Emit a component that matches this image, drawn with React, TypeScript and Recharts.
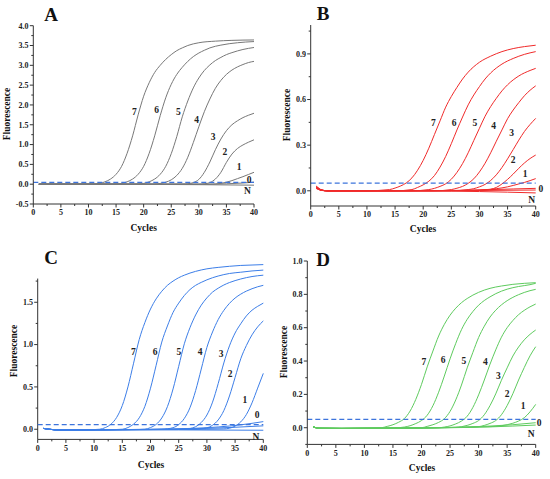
import React from 'react';
import { LineChart, Line, XAxis, YAxis, ReferenceLine, ReferenceDot } from 'recharts';

type Pt = [number, number];

const SERIF = '"Liberation Serif", "Times New Roman", serif';
const AXIS = '#333333';
const THRESH = '#3d74dc';

// ---------- shared x axis ----------
const cycleMajor = [0, 5, 10, 15, 20, 25, 30, 35, 40];
const cycleMinor = [2.5, 7.5, 12.5, 17.5, 22.5, 27.5, 32.5, 37.5];

// ---------- Panel A ----------
const A_yMajor = [-0.5, 0, 0.5, 1, 1.5, 2, 2.5, 3, 3.5, 4];
const A_yMinor = [-0.25, 0.25, 0.75, 1.25, 1.75, 2.25, 2.75, 3.25, 3.75];
const A_threshold = 0.045;
const A_7: Pt[] = [[1,0],[11,0],[12,0.02],[13,0.06],[14,0.13],[15,0.25],[16,0.45],[17,0.78],[18,1.22],[19,1.75],[20,2.22],[21,2.56],[22,2.82],[23,3.0],[24,3.15],[25,3.27],[26,3.37],[27,3.44],[28,3.5],[30,3.57],[33,3.61],[36,3.63],[40,3.64]];
const A_6: Pt[] = [[1,0],[15,0],[16,0.02],[17,0.06],[18,0.13],[19,0.25],[20,0.45],[21,0.78],[22,1.22],[23,1.73],[24,2.18],[25,2.52],[26,2.77],[27,2.95],[28,3.1],[29,3.22],[30,3.31],[31,3.38],[32,3.44],[34,3.51],[37,3.57],[40,3.6]];
const A_5: Pt[] = [[1,0],[19,0],[20,0.02],[21,0.06],[22,0.13],[23,0.25],[24,0.45],[25,0.77],[26,1.2],[27,1.7],[28,2.1],[29,2.43],[30,2.68],[31,2.87],[32,3.01],[33,3.12],[34,3.2],[35,3.27],[36,3.32],[38,3.4],[40,3.45]];
const A_4: Pt[] = [[1,0],[22,0],[23,0.02],[24,0.05],[25,0.11],[26,0.22],[27,0.4],[28,0.68],[29,1.05],[30,1.45],[31,1.83],[32,2.15],[33,2.42],[34,2.62],[35,2.77],[36,2.88],[37,2.96],[38,3.02],[39,3.07],[40,3.1]];
const A_3: Pt[] = [[1,0],[27,0],[28,0.01],[29,0.04],[30,0.12],[31,0.3],[32,0.56],[33,0.87],[34,1.14],[35,1.35],[36,1.5],[37,1.6],[38,1.68],[39,1.74],[40,1.79]];
const A_2: Pt[] = [[1,0],[30,0],[31,0.01],[32,0.04],[33,0.13],[34,0.3],[35,0.55],[36,0.76],[37,0.9],[38,0.99],[39,1.06],[40,1.12]];
const A_1: Pt[] = [[1,0],[32,0],[33,0.005],[34,0.02],[35,0.05],[36,0.09],[37,0.14],[38,0.19],[39,0.245],[40,0.3]];
const A_0: Pt[] = [[1,0],[30,0],[35,0.01],[38,0.03],[40,0.05]];
const A_N: Pt[] = [[1,0],[20,-0.005],[30,-0.012],[40,-0.025]];
const A_labelText = ['7', '6', '5', '4', '3', '2', '1', '0', 'N'];
const A_labelPos: Pt[] = [[18.3,1.83],[22.35,1.87],[26.3,1.83],[29.6,1.64],[32.6,1.21],[34.7,0.82],[37.3,0.44],[39.1,0.12],[38.8,-0.15]];

// ---------- Panel B ----------
const B_yMajor = [0, 0.3, 0.6, 0.9];
const B_yMinor = [0.15, 0.45, 0.75, 1.05];
const B_threshold = 0.05;
const B_7: Pt[] = [[1,0.025],[2,0.004],[3,0],[10,0],[14,0.008],[15,0.018],[16,0.032],[17,0.052],[18,0.085],[19,0.135],[20,0.2],[21,0.28],[22,0.37],[23,0.46],[24,0.55],[25,0.62],[26,0.68],[27,0.735],[28,0.78],[30,0.845],[32,0.885],[34,0.915],[36,0.935],[38,0.948],[40,0.957]];
const B_6: Pt[] = [[1,0.02],[2,0.003],[3,0],[15,0],[18,0.008],[19,0.022],[20,0.039],[21,0.063],[22,0.1],[23,0.156],[24,0.226],[25,0.31],[26,0.4],[27,0.485],[28,0.565],[29,0.63],[30,0.685],[31,0.735],[32,0.775],[34,0.833],[36,0.87],[38,0.897],[40,0.915]];
const B_5: Pt[] = [[1,0.03],[2,0.005],[3,0],[18,0],[21,0.008],[22,0.016],[23,0.029],[24,0.046],[25,0.076],[26,0.121],[27,0.179],[28,0.25],[29,0.331],[30,0.411],[31,0.49],[32,0.554],[33,0.608],[34,0.657],[35,0.697],[37,0.755],[39,0.791],[40,0.805]];
const B_4: Pt[] = [[1,0.015],[2,0.002],[3,0],[22,0],[25,0.008],[26,0.017],[27,0.029],[28,0.049],[29,0.079],[30,0.124],[31,0.181],[32,0.25],[33,0.326],[34,0.4],[35,0.474],[36,0.531],[37,0.58],[38,0.625],[39,0.661],[40,0.69]];
const B_3: Pt[] = [[1,0.02],[2,0.003],[3,0],[25,0],[28,0.008],[29,0.014],[30,0.026],[31,0.042],[32,0.068],[33,0.105],[34,0.153],[35,0.21],[36,0.271],[37,0.333],[38,0.39],[39,0.436],[40,0.476]];
const B_2: Pt[] = [[1,0.025],[2,0.004],[3,0],[28,0],[31,0.005],[32,0.01],[33,0.022],[34,0.045],[35,0.075],[36,0.11],[37,0.148],[38,0.183],[39,0.212],[40,0.235]];
const B_1: Pt[] = [[1,0.02],[2,0.003],[3,0],[26,0.002],[30,0.005],[32,0.01],[34,0.019],[35,0.026],[36,0.035],[37,0.045],[38,0.055],[39,0.067],[40,0.08]];
const B_0: Pt[] = [[1,0.02],[2,0.003],[3,0],[25,0.002],[32,0.008],[36,0.012],[40,0.016]];
const B_0b: Pt[] = [[1,0.015],[2,0.002],[3,0],[30,0.002],[40,0.005]];
const B_N: Pt[] = [[1,0.03],[2,0.005],[3,0],[25,-0.002],[30,-0.005],[35,-0.009],[40,-0.014]];
const B_labelText = ['7', '6', '5', '4', '3', '2', '1', '0', 'N'];
const B_labelPos: Pt[] = [[21.8,0.448],[25.5,0.448],[29.2,0.448],[32.5,0.426],[35.7,0.382],[36.0,0.202],[38.1,0.114],[40.9,0.016],[39.3,-0.055]];

// ---------- Panel C ----------
const C_yMajor = [0, 0.5, 1, 1.5];
const C_yMinor = [0.25, 0.75, 1.25, 1.75];
const C_threshold = 0.055;
const C_7: Pt[] = [[1,0.01],[2,0],[4,-0.008],[8,-0.008],[11,0],[12,0.02],[13,0.06],[14,0.14],[15,0.28],[16,0.5],[17,0.78],[18,1.06],[19,1.26],[20,1.42],[21,1.54],[22,1.63],[23,1.7],[24,1.75],[25,1.79],[26,1.82],[27,1.845],[28,1.865],[30,1.895],[32,1.912],[34,1.925],[36,1.935],[38,1.94],[40,1.945]];
const C_6: Pt[] = [[1,0.01],[2,0],[4,-0.008],[10,-0.008],[14,-0.003],[15,0],[16,0.02],[17,0.06],[18,0.135],[19,0.27],[20,0.485],[21,0.755],[22,1.03],[23,1.22],[24,1.38],[25,1.49],[26,1.58],[27,1.65],[28,1.7],[29,1.735],[30,1.765],[31,1.79],[32,1.81],[34,1.84],[36,1.855],[38,1.87],[40,1.88]];
const C_5: Pt[] = [[1,0.01],[2,0],[4,-0.008],[12,-0.006],[18,-0.002],[19,0],[20,0.02],[21,0.057],[22,0.133],[23,0.267],[24,0.476],[25,0.743],[26,1.01],[27,1.2],[28,1.35],[29,1.466],[30,1.552],[31,1.62],[32,1.666],[33,1.704],[34,1.733],[35,1.756],[36,1.775],[38,1.804],[40,1.82]];
const C_4: Pt[] = [[1,0.01],[2,0],[4,-0.008],[14,-0.005],[22,0],[23,0.006],[24,0.018],[25,0.055],[26,0.128],[27,0.255],[28,0.456],[29,0.711],[30,0.967],[31,1.149],[32,1.295],[33,1.404],[34,1.487],[35,1.55],[36,1.596],[37,1.632],[38,1.66],[39,1.683],[40,1.7]];
const C_3: Pt[] = [[1,0.01],[2,0],[4,-0.008],[15,-0.005],[25,0],[26,0.003],[27,0.008],[28,0.03],[29,0.08],[30,0.168],[31,0.32],[32,0.539],[33,0.783],[34,0.985],[35,1.137],[36,1.246],[37,1.339],[38,1.406],[39,1.452],[40,1.49]];
const C_2: Pt[] = [[1,0.01],[2,0],[4,-0.008],[15,-0.005],[28,0],[29,0.006],[30,0.016],[31,0.047],[32,0.11],[33,0.22],[34,0.393],[35,0.612],[36,0.832],[37,0.989],[38,1.115],[39,1.209],[40,1.28]];
const C_1: Pt[] = [[1,0.01],[2,0],[4,-0.008],[15,-0.005],[30,0],[33,0.004],[34,0.012],[35,0.037],[36,0.087],[37,0.174],[38,0.312],[39,0.486],[40,0.66]];
const C_0: Pt[] = [[1,0.01],[2,0],[4,-0.008],[15,-0.004],[24,0.003],[28,0.012],[32,0.027],[36,0.052],[40,0.09]];
const C_0b: Pt[] = [[1,0.01],[2,0],[4,-0.008],[20,-0.002],[30,0.01],[40,0.04]];
const C_N: Pt[] = [[1,0.01],[2,0],[4,-0.008],[15,-0.008],[25,-0.008],[40,-0.012]];
const C_labelText = ['7', '6', '5', '4', '3', '2', '1', '0', 'N'];
const C_labelPos: Pt[] = [[16.95,0.916],[20.8,0.916],[25.05,0.916],[28.8,0.916],[32.5,0.897],[34.1,0.661],[36.75,0.346],[38.9,0.169],[38.7,-0.087]];

// ---------- Panel D ----------
const D_yMajor = [0, 0.2, 0.4, 0.6, 0.8, 1.0];
const D_yMinor = [-0.1, 0.1, 0.3, 0.5, 0.7, 0.9];
const D_threshold = 0.05;
const D_7: Pt[] = [[1,0.006],[2,-0.003],[6,-0.004],[12,-0.002],[13,0],[14,0.008],[15,0.018],[16,0.033],[17,0.055],[18,0.1],[19,0.17],[20,0.26],[21,0.365],[22,0.46],[23,0.55],[24,0.62],[25,0.675],[26,0.717],[27,0.75],[28,0.775],[30,0.812],[32,0.836],[34,0.85],[36,0.86],[38,0.866],[40,0.87]];
const D_6: Pt[] = [[1,0.006],[2,-0.003],[6,-0.004],[14,-0.002],[16,0],[17,0.004],[18,0.012],[19,0.025],[20,0.043],[21,0.075],[22,0.132],[23,0.213],[24,0.31],[25,0.413],[26,0.506],[27,0.588],[28,0.65],[29,0.697],[30,0.735],[31,0.763],[32,0.785],[33,0.804],[35,0.831],[37,0.847],[39,0.858],[40,0.866]];
const D_5: Pt[] = [[1,0.006],[2,-0.003],[6,-0.004],[16,-0.002],[20,0],[21,0.008],[22,0.018],[23,0.032],[24,0.054],[25,0.098],[26,0.167],[27,0.256],[28,0.359],[29,0.452],[30,0.541],[31,0.609],[32,0.664],[33,0.705],[34,0.737],[35,0.762],[37,0.798],[39,0.822],[40,0.83]];
const D_4: Pt[] = [[1,0.006],[2,-0.003],[6,-0.004],[18,-0.002],[23,0],[24,0.004],[25,0.011],[26,0.023],[27,0.04],[28,0.069],[29,0.122],[30,0.197],[31,0.286],[32,0.381],[33,0.467],[34,0.543],[35,0.6],[36,0.643],[37,0.678],[38,0.704],[39,0.725],[40,0.742]];
const D_3: Pt[] = [[1,0.006],[2,-0.003],[6,-0.004],[18,-0.002],[26,0.002],[27,0.006],[28,0.014],[29,0.026],[30,0.043],[31,0.078],[32,0.133],[33,0.203],[34,0.285],[35,0.359],[36,0.43],[37,0.484],[38,0.527],[39,0.56],[40,0.586]];
const D_2: Pt[] = [[1,0.006],[2,-0.003],[6,-0.004],[18,-0.002],[28,0.003],[30,0.006],[31,0.014],[32,0.026],[33,0.043],[34,0.078],[35,0.133],[36,0.204],[37,0.286],[38,0.361],[39,0.431],[40,0.486]];
const D_1: Pt[] = [[1,0.006],[2,-0.003],[6,-0.004],[18,-0.002],[26,0.002],[30,0.005],[33,0.008],[34,0.012],[35,0.018],[36,0.027],[37,0.04],[38,0.06],[39,0.095],[40,0.14]];
const D_0: Pt[] = [[1,0.006],[2,-0.003],[6,-0.004],[18,-0.002],[25,0.002],[32,0.01],[36,0.018],[40,0.03]];
const D_N: Pt[] = [[1,0.006],[2,-0.003],[6,-0.004],[18,-0.003],[25,0],[32,0.005],[36,0.01],[40,0.016]];
const D_labelText = ['7', '6', '5', '4', '3', '2', '1', '0', 'N'];
const D_labelPos: Pt[] = [[20.4,0.396],[23.8,0.406],[27.4,0.402],[31.2,0.396],[33.45,0.31],[35.0,0.202],[37.8,0.13],[40.6,0.032],[39.2,-0.034]];

// ---------- helpers ----------
const toRows = (pts: Pt[]) => pts.map(([x, y]) => ({ x, y }));
const isIn = (arr: number[], v: number) => arr.some((m) => Math.abs(m - v) < 1e-9);

function makeYTick(majors: number[], decimals: number) {
  return (p: any) => {
    const { x, y, payload } = p;
    const v = payload.value as number;
    const major = isIn(majors, v);
    const len = major ? 3.5 : 2;
    return (
      <g>
        <line x1={x - len} x2={x} y1={y} y2={y} stroke={AXIS} strokeWidth={1} />
        {major && (
          <text x={x - 4.8} y={y + 2.8} textAnchor="end" fontSize={8} fontWeight="bold" fontFamily={SERIF} fill="#222">
            {v.toFixed(decimals)}
          </text>
        )}
      </g>
    );
  };
}

function makeXTick(majors: number[]) {
  return (p: any) => {
    const { x, y, payload } = p;
    const v = payload.value as number;
    const major = isIn(majors, v);
    const len = major ? 3.5 : 2;
    return (
      <g>
        <line x1={x} x2={x} y1={y} y2={y + len} stroke={AXIS} strokeWidth={1} />
        {major && (
          <text x={x} y={y + 11.3} textAnchor="middle" fontSize={8} fontWeight="bold" fontFamily={SERIF} fill="#222">
            {String(v)}
          </text>
        )}
      </g>
    );
  };
}

type PanelProps = {
  left: number;
  top: number;
  width: number;
  height: number;
  margin: { top: number; right: number; bottom: number; left: number };
  yDomain: [number, number];
  yMajor: number[];
  yMinor: number[];
  decimals: number;
  series: Pt[][];
  color: string;
  threshold: number;
  labelText: string[];
  labelPos: Pt[];
  axisTop?: number;
};

function Panel(props: PanelProps) {
  const { left, top, width, height, margin, yDomain, yMajor, yMinor, decimals, series, color, threshold, labelText, labelPos, axisTop } = props;
  const customAxis = axisTop !== undefined;
  return (
    <div style={{ position: 'absolute', left, top, width, height }}>
      <LineChart width={width} height={height} margin={margin}>
        <XAxis
          dataKey="x"
          type="number"
          domain={[0, 40]}
          ticks={[...cycleMajor, ...cycleMinor]}
          interval={0}
          height={20}
          tickSize={0}
          tickMargin={0}
          tickLine={false}
          axisLine={{ stroke: AXIS, strokeWidth: 1 }}
          tick={makeXTick(cycleMajor)}
        />
        <YAxis
          type="number"
          domain={yDomain}
          ticks={[...yMajor, ...yMinor]}
          interval={0}
          width={28}
          tickSize={0}
          tickMargin={0}
          tickLine={false}
          axisLine={customAxis ? false : { stroke: AXIS, strokeWidth: 1 }}
          tick={makeYTick(yMajor, decimals)}
        />
        {customAxis && (
          <ReferenceLine
            segment={[{ x: 0, y: yDomain[0] }, { x: 0, y: axisTop as number }]}
            stroke={AXIS}
            strokeWidth={1}
            ifOverflow="visible"
          />
        )}
        {series.map((s, i) => (
          <Line
            key={i}
            data={toRows(s)}
            dataKey="y"
            type="monotone"
            stroke={color}
            strokeWidth={1}
            dot={false}
            activeDot={false}
            isAnimationActive={false}
          />
        ))}
        <ReferenceLine y={threshold} stroke={THRESH} strokeWidth={1.2} strokeDasharray="5 3" />
        {labelText.map((t, i) => (
          <ReferenceDot
            key={'l' + i}
            x={labelPos[i][0]}
            y={labelPos[i][1]}
            r={0.01}
            fill="none"
            stroke="none"
            ifOverflow="visible"
            label={{ value: t, position: 'center', fontSize: 9.5, fontWeight: 'bold', fontFamily: SERIF, fill: '#222' }}
          />
        ))}
      </LineChart>
    </div>
  );
}

const textBase: React.CSSProperties = {
  position: 'absolute',
  fontFamily: SERIF,
  fontWeight: 'bold',
  color: '#111',
  lineHeight: 1,
  whiteSpace: 'nowrap',
  transform: 'translate(-50%, -50%)',
};

function Txt({ x, y, size, rotate, children }: { x: number; y: number; size: number; rotate?: boolean; children: React.ReactNode }) {
  return (
    <div
      style={{
        ...textBase,
        left: x,
        top: y,
        fontSize: size,
        transform: rotate ? 'translate(-50%, -50%) rotate(-90deg)' : 'translate(-50%, -50%)',
      }}
    >
      {children}
    </div>
  );
}

export default function App() {
  return (
    <div style={{ position: 'absolute', left: 0, top: 0, width: 550, height: 479, background: '#fff', overflow: 'hidden' }}>
      <Panel
        left={0}
        top={0}
        width={275}
        height={240}
        margin={{ top: 25.7, right: 21, bottom: 16, left: 5.3 }}
        yDomain={[-0.5, 4.0]}
        yMajor={A_yMajor}
        yMinor={A_yMinor}
        decimals={1}
        series={[A_N, A_0, A_1, A_2, A_3, A_4, A_5, A_6, A_7]}
        color="#787878"
        threshold={A_threshold}
        labelText={A_labelText}
        labelPos={A_labelPos}
      />
      <Panel
        left={275}
        top={0}
        width={275}
        height={240}
        margin={{ top: 25, right: 14.3, bottom: 14, left: 7.7 }}
        yDomain={[-0.1, 1.09]}
        yMajor={B_yMajor}
        yMinor={B_yMinor}
        decimals={1}
        series={[B_N, B_0b, B_0, B_1, B_2, B_3, B_4, B_5, B_6, B_7]}
        color="#f02a2a"
        threshold={B_threshold}
        labelText={B_labelText}
        labelPos={B_labelPos}
      />
      <Panel
        left={0}
        top={240}
        width={275}
        height={239}
        margin={{ top: 24.6, right: 11.7, bottom: 19.6, left: 9.7 }}
        yDomain={[-0.12, 1.945]}
        yMajor={C_yMajor}
        yMinor={C_yMinor}
        decimals={1}
        series={[C_N, C_0b, C_0, C_1, C_2, C_3, C_4, C_5, C_6, C_7]}
        color="#3c7ee8"
        threshold={C_threshold}
        labelText={C_labelText}
        labelPos={C_labelPos}
        axisTop={1.78}
      />
      <Panel
        left={275}
        top={240}
        width={275}
        height={239}
        margin={{ top: 21, right: 14.3, bottom: 14.6, left: 4.3 }}
        yDomain={[-0.1, 1.0]}
        yMajor={D_yMajor}
        yMinor={D_yMinor}
        decimals={1}
        series={[D_N, D_0, D_1, D_2, D_3, D_4, D_5, D_6, D_7]}
        color="#5ecb5e"
        threshold={D_threshold}
        labelText={D_labelText}
        labelPos={D_labelPos}
      />

      <Txt x={51} y={14} size={19}>A</Txt>
      <Txt x={323} y={13} size={19}>B</Txt>
      <Txt x={51} y={256.7} size={19}>C</Txt>
      <Txt x={323} y={259} size={19}>D</Txt>

      <Txt x={7.5} y={114} size={9.5} rotate>Fluorescence</Txt>
      <Txt x={288.3} y={114.5} size={9.5} rotate>Fluorescence</Txt>
      <Txt x={15} y={351} size={9.5} rotate>Fluorescence</Txt>
      <Txt x={285} y={352} size={9.5} rotate>Fluorescence</Txt>

      <Txt x={143.7} y={228.5} size={9.5}>Cycles</Txt>
      <Txt x={423} y={230} size={9.5}>Cycles</Txt>
      <Txt x={151} y={466} size={9.5}>Cycles</Txt>
      <Txt x={422} y={469} size={9.5}>Cycles</Txt>
    </div>
  );
}
